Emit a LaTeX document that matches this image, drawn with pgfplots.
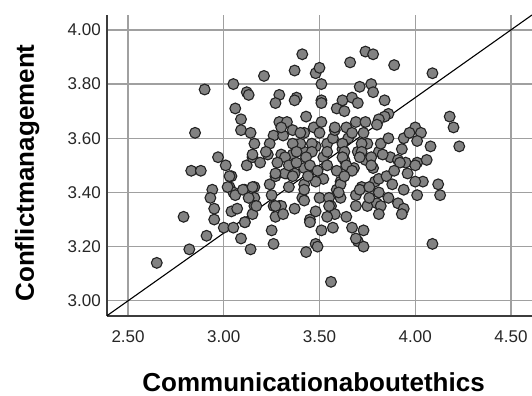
\documentclass[border=0pt]{standalone}
\usepackage{fontspec}
\setmainfont{Liberation Sans}
\usepackage{pgfplots}
\pgfplotsset{compat=1.18}
\usepackage{pgfplotstable}
\definecolor{gridc}{HTML}{A0A0A0}
\definecolor{markfill}{HTML}{828282}
\definecolor{markdraw}{HTML}{222222}
\definecolor{axisc}{HTML}{3C3C3C}
\pgfplotstableread{
x y
2.65 3.14
2.79 3.31
2.82 3.19
2.91 3.24
2.83 3.48
2.88 3.48
2.90 3.78
2.85 3.62
2.97 3.53
3.01 3.50
3.04 3.46
2.94 3.41
2.93 3.38
2.95 3.34
2.95 3.30
3.00 3.27
3.05 3.27
3.09 3.23
3.14 3.19
3.04 3.33
3.07 3.34
3.12 3.50
3.15 3.53
3.03 3.42
3.05 3.40
3.11 3.41
3.16 3.42
3.16 3.38
3.16 3.35
3.11 3.29
3.24 3.43
3.27 3.46
3.25 3.39
3.26 3.35
3.27 3.31
3.25 3.26
3.26 3.21
3.29 3.35
3.33 3.47
3.37 3.47
3.37 3.34
3.41 3.38
3.42 3.43
3.43 3.18
3.45 3.30
3.48 3.21
3.15 3.32
3.05 3.80
3.12 3.77
3.13 3.76
3.21 3.83
3.29 3.76
3.27 3.73
3.06 3.71
3.09 3.67
3.09 3.63
3.14 3.62
3.16 3.58
3.29 3.66
3.33 3.66
3.26 3.61
3.31 3.61
3.36 3.63
3.24 3.58
3.30 3.54
3.15 3.54
3.23 3.54
3.36 3.54
3.42 3.55
3.40 3.58
3.42 3.62
3.43 3.68
3.47 3.64
3.38 3.75
3.37 3.74
3.41 3.91
3.37 3.85
3.48 3.84
3.50 3.86
3.51 3.80
3.51 3.74
3.51 3.73
3.51 3.66
3.50 3.62
3.48 3.57
3.54 3.58
3.57 3.60
3.58 3.63
3.59 3.71
3.62 3.74
3.63 3.70
3.67 3.75
3.66 3.88
3.74 3.92
3.78 3.91
3.89 3.87
4.09 3.84
3.71 3.79
3.77 3.80
3.78 3.77
3.84 3.74
3.70 3.73
3.86 3.69
3.84 3.68
3.81 3.67
3.69 3.66
3.74 3.66
3.80 3.65
3.64 3.64
3.62 3.56
3.70 3.55
3.81 3.55
3.87 3.53
3.65 3.60
3.75 3.58
3.82 3.58
3.86 3.60
3.94 3.60
3.93 3.56
3.91 3.52
3.95 3.51
4.01 3.51
4.06 3.52
4.00 3.64
4.03 3.62
3.97 3.62
4.01 3.59
4.08 3.57
4.18 3.68
4.20 3.64
4.23 3.57
3.52 3.53
3.63 3.52
3.74 3.52
3.83 3.54
3.42 3.49
3.59 3.48
3.68 3.49
3.78 3.49
3.96 3.47
3.52 3.45
3.61 3.44
3.48 3.44
3.42 3.41
3.59 3.41
3.72 3.42
3.79 3.44
3.81 3.40
3.50 3.38
3.55 3.38
3.61 3.38
3.69 3.39
3.42 3.37
3.56 3.35
3.69 3.35
3.75 3.35
3.80 3.36
3.58 3.32
3.48 3.33
3.51 3.26
3.57 3.27
3.67 3.27
3.73 3.26
3.70 3.22
3.73 3.20
3.49 3.20
3.56 3.07
3.30 3.35
3.32 3.47
4.12 3.43
4.13 3.39
4.09 3.21
4.04 3.44
4.00 3.44
4.01 3.39
3.94 3.41
3.91 3.36
3.94 3.34
3.93 3.32
3.82 3.35
3.81 3.32
3.81 3.45
3.92 3.51
4.00 3.50
3.30 3.64
3.58 3.64
3.40 3.62
3.67 3.62
3.73 3.62
3.36 3.58
3.46 3.58
3.62 3.58
3.72 3.58
3.38 3.55
3.46 3.55
3.54 3.55
3.63 3.55
3.72 3.55
3.32 3.53
3.43 3.53
3.62 3.53
3.71 3.53
3.77 3.53
3.34 3.50
3.45 3.50
3.54 3.50
3.64 3.50
3.77 3.50
3.36 3.46
3.49 3.48
3.67 3.48
3.71 3.41
3.76 3.42
3.61 3.43
3.60 3.40
3.55 3.35
3.34 3.42
3.54 3.31
3.45 3.29
3.69 3.23
3.03 3.46
3.02 3.42
3.06 3.39
3.10 3.41
3.15 3.42
3.13 3.38
3.17 3.35
3.27 3.47
3.27 3.35
3.31 3.32
3.11 3.29
3.22 3.55
3.19 3.51
3.28 3.51
3.38 3.51
3.44 3.46
3.85 3.46
3.88 3.43
3.86 3.38
3.89 3.48
3.76 3.38
3.64 3.31
3.63 3.46
}\pts
\begin{document}
\begin{tikzpicture}
\begin{axis}[
  at={(107bp,80.3bp)}, anchor=south west,
  scale only axis, width=425bp, height=300.7bp,
  xmin=2.39, xmax=4.61, ymin=2.945, ymax=4.055,
  axis x line*=bottom, axis y line*=left,
  axis line style={-, draw=axisc, line width=2bp},
  xtick={2.5,3,3.5,4,4.5}, ytick={3,3.2,3.4,3.6,3.8,4},
  major tick length=0pt,
  grid=major, major grid style={draw=gridc, line width=1.3bp},
  tick label style={font=\fontsize{17bp}{20bp}\selectfont, text=black!85},
  xticklabel style={inner sep=0pt, yshift=-15bp},
  yticklabel style={inner sep=0pt, xshift=-6bp},
  /pgf/number format/.cd, fixed, fixed zerofill, precision=2, assume math mode=true,
  /pgfplots/.cd,
  xlabel={Communicationaboutethics}, ylabel={Conflictmanagement},
  xlabel style={at={(axis description cs:0.486,-0.2517)}, anchor=base, font=\fontsize{26bp}{30bp}\selectfont\bfseries},
  ylabel style={at={(axis description cs:-0.1718,0.4746)}, anchor=base, font=\fontsize{26bp}{30bp}\selectfont\bfseries},
]
\addplot[only marks, mark=*, mark size=5.4bp, mark options={fill=markfill, draw=markdraw, line width=1.1bp}] table[x=x,y=y] {\pts};
\addplot[no marks, black, line width=1.1bp] coordinates {(2.39,2.945) (4.61,4.055)};
\end{axis}
\pgfresetboundingbox
\path[use as bounding box] (0,0) rectangle (532bp,396bp);
\end{tikzpicture}
\end{document}
